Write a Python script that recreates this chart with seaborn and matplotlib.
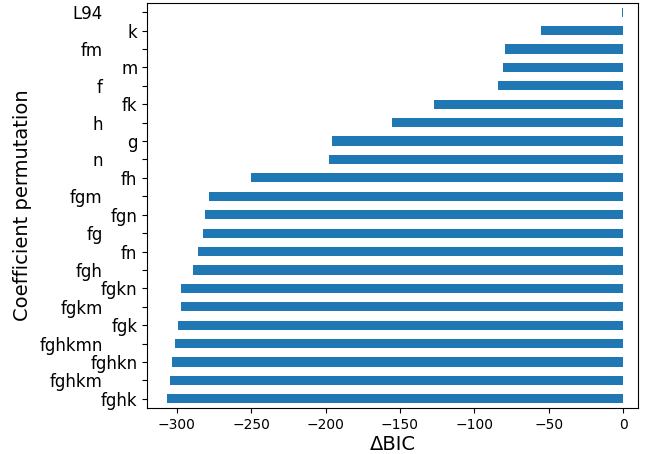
import matplotlib
matplotlib.use("Agg")
import matplotlib.pyplot as plt
import seaborn as sns
import pandas as pd

# Coefficient subsets and their change in BIC relative to the L94 baseline
permutations = ["L94", "k", "fm", "m", "f", "fk", "h", "g", "n", "fh",
                "fgm", "fgn", "fg", "fn", "fgh", "fgkn", "fgkm", "fgk",
                "fghkmn", "fghkn", "fghkm", "fghk"]
delta_bic = [-1.0, -55.0, -79.7, -81.0, -84.4, -127.3, -155.5, -195.8, -197.8, -250.0,
             -278.5, -281.0, -282.3, -285.7, -289.0, -297.0, -297.2, -299.1,
             -301.1, -303.0, -304.5, -306.5]

df = pd.DataFrame({"perm": permutations, "dbic": delta_bic})

sns.set_style("ticks", {"axes.edgecolor": "black", "text.color": "black",
                        "xtick.color": "black", "ytick.color": "black",
                        "axes.labelcolor": "black"})
fig, ax = plt.subplots(figsize=(6.55, 4.54), dpi=100)
fig.subplots_adjust(left=0.2244, right=0.974, top=0.9934, bottom=0.1013)

sns.barplot(data=df, x="dbic", y="perm", order=permutations, orient="h",
            color="#1f77b4", saturation=1, width=0.5, linewidth=0, ax=ax)

ax.set_xlim(-320, 10)
ax.set_ylim(len(permutations) - 0.5, -0.5)
ax.set_xticks([-300, -250, -200, -150, -100, -50, 0])
ax.tick_params(axis="x", labelsize=10, length=3.5, width=0.8)
ax.tick_params(axis="y", labelsize=12, length=3.5, width=0.8)

# stagger the crowded category labels
for i, tick in enumerate(ax.yaxis.get_major_ticks()):
    tick.set_pad(3.5 if i % 2 else 28.5)

for side in ["left", "right", "top", "bottom"]:
    ax.spines[side].set_visible(True)
    ax.spines[side].set_linewidth(0.8)

ax.set_xlabel("ΔBIC", fontsize=14, labelpad=2)
ax.set_ylabel("Coefficient permutation", fontsize=14, labelpad=5)

fig.savefig("out.png", dpi=100)
